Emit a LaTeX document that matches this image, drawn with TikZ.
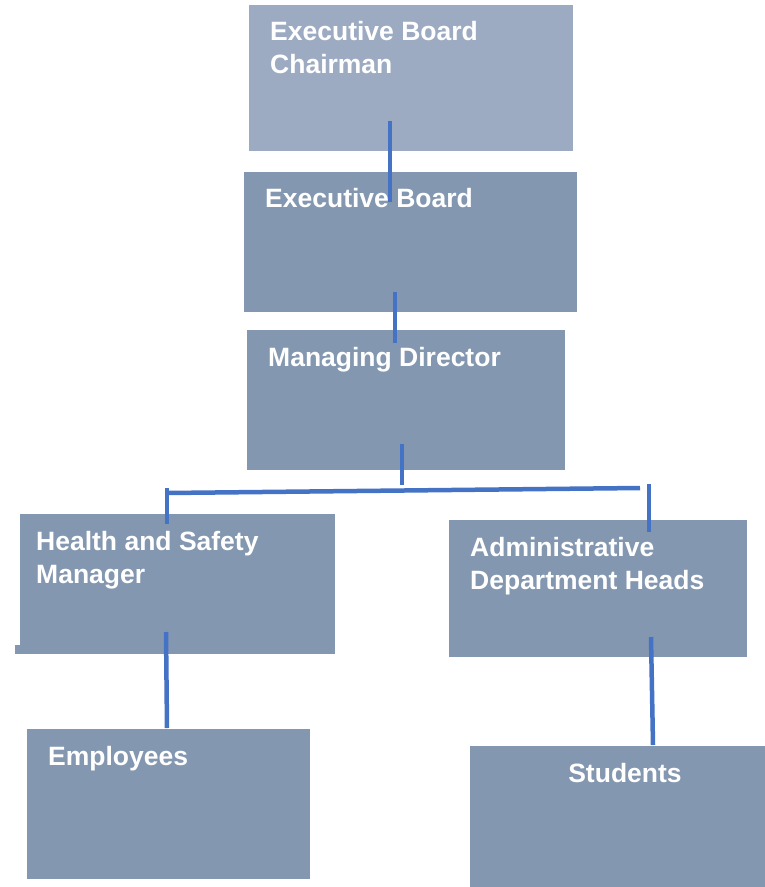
\documentclass[tikz,border=0pt]{standalone}
\usepackage{fontspec}
\setmainfont{Liberation Sans}
\usetikzlibrary{calc}
\definecolor{boxc}{HTML}{8497B0}
\definecolor{boxlight}{HTML}{9DABC2}
\definecolor{linec}{HTML}{4472C4}
\begin{document}
\begin{tikzpicture}[x=1pt,y=-1pt,
  box/.style={draw=none,fill=boxc,inner sep=0pt,outer sep=0pt,anchor=north west},
  lbl/.style={anchor=base west,inner sep=0pt,text=white,font=\fontsize{26.5}{33}\selectfont\bfseries},
  conn/.style={draw=linec,line width=4.5pt}]
\useasboundingbox (0,0) rectangle (765,887);
% boxes
\node[box,fill=boxlight,minimum width=324pt,minimum height=146pt] (chair) at (249,5) {};
\node[box,minimum width=333pt,minimum height=140pt] (board) at (244,172) {};
\node[box,minimum width=318pt,minimum height=140pt] (md) at (247,330) {};
\node[box,minimum width=315pt,minimum height=140pt] (hs) at (20,514) {};
\fill[boxc] (15,645) rectangle (21,654);
\node[box,minimum width=298pt,minimum height=137pt] (adm) at (449,520) {};
\node[box,minimum width=283pt,minimum height=150pt] (emp) at (27,729) {};
\node[box,minimum width=295pt,minimum height=141pt] (stu) at (470,746) {};
% connector points
\coordinate (a1) at (390,121);
\coordinate (a2) at (390,202);
\coordinate (b1) at (395,292);
\coordinate (b2) at (395,343);
\coordinate (m1) at (402,444);
\coordinate (m2) at (402,485);
\coordinate (hl) at (167,493);
\coordinate (hr) at (640,488);
\coordinate (l1) at (167,488);
\coordinate (l2) at (167,524);
\coordinate (r1) at (649,484);
\coordinate (r2) at (649,532);
\coordinate (e1) at (166,632);
\coordinate (e2) at (167,728);
\coordinate (s1) at (651,637);
\coordinate (s2) at (653,745);
% connectors
\draw[conn] (a1) -- (a2);
\draw[conn] (b1) -- (b2);
\draw[conn] (m1) -- (m2);
\draw[conn] (hl) -- (hr);
\draw[conn] (l1) -- (l2);
\draw[conn] (r1) -- (r2);
\draw[conn] (e1) -- (e2);
\draw[conn] (s1) -- (s2);
% labels
\node[lbl] (chairT1) at (270,40) {Executive Board};
\node[lbl] (chairT2) at (270,73) {Chairman};
\node[lbl] (boardT) at (265,207) {Executive Board};
\node[lbl] (mdT) at (268,366) {Managing Director};
\node[lbl] (hsT1) at (36,550) {Health and Safety};
\node[lbl] (hsT2) at (36,583) {Manager};
\node[lbl] (admT1) at (470,556) {Administrative};
\node[lbl] (admT2) at (470,589) {Department Heads};
\node[lbl] (empT) at (48,765) {Employees};
\node[lbl,anchor=base] (stuT) at (625,782) {Students};
\end{tikzpicture}
\end{document}
